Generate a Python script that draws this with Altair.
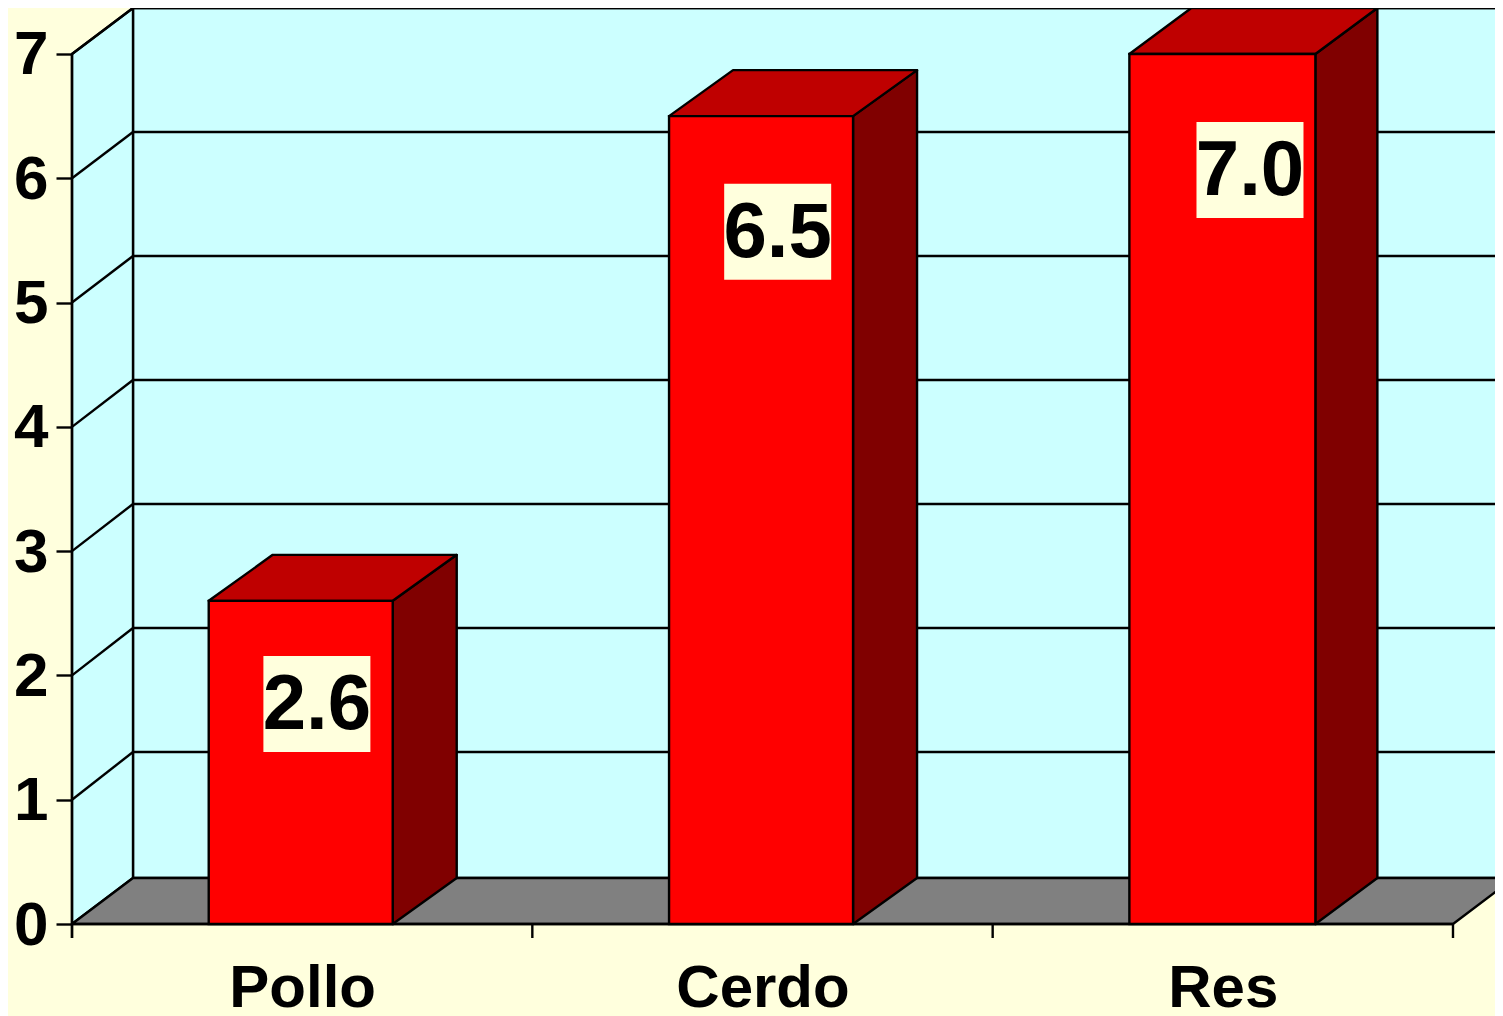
import json
import altair as alt
import pandas as pd

categories = ["Pollo", "Cerdo", "Res"]
values = [2.6, 6.5, 7.0]
value_labels = ["2.6", "6.5", "7.0"]
y_ticks = [0, 1, 2, 3, 4, 5, 6, 7]

BG, WALL, FLOOR = "#FFFFDD", "#CCFFFF", "#808080"
FRONT, TOP, SIDE = "#FF0000", "#BF0000", "#800000"
FONT = "Liberation Sans"
LW = 2.4

# scale geometry: plot area starts at page (8, 8)
W, H = 1487, 1008
X0, UX = 64.0, 460.33
Y0, UY = 916.0, 124.29
x_scale = alt.Scale(domain=[-X0 / UX, (W - X0) / UX], nice=False, zero=False)
y_scale = alt.Scale(domain=[(Y0 - H) / UY, Y0 / UY], nice=False, zero=False)
DX, DY = 61.0 / UX, 46.0 / UY       # depth of the 3-D projection
BAR_OFF = 0.297
BAR_W = [184.0 / UX, 184.0 / UX, 186.0 / UX]
BAR_DX = [64.0 / UX, 64.0 / UX, 62.0 / UX]
XN = len(categories)
YMAX = max(y_ticks)
XEND = (W - X0) / UX


def wall_y(t):
    """height of a gridline on the back wall"""
    return (48.0 + t * 124.0) / UY if t else DY


names = json.dumps(categories)
x_axis = alt.Axis(
    values=[i + 0.5 for i in range(XN)],
    labelExpr=f"{names}[floor(datum.value)]",
    offset=-(H - Y0), domain=False, ticks=False, grid=False, title=None,
    labelFont=FONT, labelFontWeight="bold", labelFontSize=60, labelColor="black",
    labelPadding=35, labelFlush=False, labelOverlap=False, labelBound=False,
)
y_axis = alt.Axis(
    values=y_ticks, offset=-X0, domain=False, grid=False, title=None,
    tickSize=16, tickWidth=LW, tickColor="black", format="d",
    labelFont=FONT, labelFontWeight="bold", labelFontSize=62, labelColor="black",
    labelPadding=8, labelOffset=1, labelOverlap=False, labelBound=False, labelFlush=False,
)


def X(f="x"):
    return alt.X(f"{f}:Q", scale=x_scale, axis=x_axis)


def Y(f="y"):
    return alt.Y(f"{f}:Q", scale=y_scale, axis=y_axis)


def area_v(rows, fill, clip=False):
    """parallelogram with vertical sides"""
    return alt.Chart(pd.DataFrame(rows)).mark_area(
        fill=fill, stroke="black", strokeWidth=LW, strokeJoin="round", clip=clip, opacity=1
    ).encode(x=X(), y=Y(), y2="y2:Q", detail="k:N")


def area_h(rows, fill, clip=False):
    """parallelogram with horizontal sides"""
    return alt.Chart(pd.DataFrame(rows)).mark_area(
        fill=fill, stroke="black", strokeWidth=LW, strokeJoin="round", clip=clip,
        orient="horizontal", opacity=1
    ).encode(y=Y(), x=X(), x2="x2:Q", detail="k:N")


def segments(segs, clip=True):
    rows = []
    for k, (a, b, c, d) in enumerate(segs):
        rows += [dict(k=k, i=0, x=a, y=b), dict(k=k, i=1, x=c, y=d)]
    return alt.Chart(pd.DataFrame(rows)).mark_line(
        color="black", strokeWidth=LW, clip=clip
    ).encode(x=X(), y=Y(), detail="k:N", order="i:Q")


# walls and floor
back = alt.Chart(pd.DataFrame([dict(x=DX, x2=XEND + 1, y=DY, y2=wall_y(YMAX))])).mark_rect(
    fill=WALL, stroke="black", strokeWidth=LW, clip=True
).encode(x=X(), x2="x2:Q", y=Y(), y2="y2:Q")
left = area_v([dict(k=0, x=0, y=0, y2=YMAX), dict(k=0, x=DX, y=DY, y2=wall_y(YMAX))], WALL)
floor = area_h([dict(k=0, y=0, x=0, x2=XN), dict(k=0, y=DY, x=DX, x2=XN + DX)], FLOOR, clip=True)

grid = segments(
    [(DX, wall_y(t), XEND + 1, wall_y(t)) for t in y_ticks[1:]]
    + [(0, t, DX, wall_y(t)) for t in y_ticks[1:]]
)
ticks = segments(
    [(i, 0, i, -14.0 / UY) for i in range(XN + 1)] + [(0, 0, XN, 0)]
)

# bars
side_rows, top_rows, front_rows = [], [], []
for i, v in enumerate(values):
    l = i + BAR_OFF
    r = l + BAR_W[i]
    d = BAR_DX[i]
    side_rows += [dict(k=i, x=r, y=0, y2=v), dict(k=i, x=r + d, y=DY, y2=v + DY)]
    top_rows += [dict(k=i, y=v, x=l, x2=r), dict(k=i, y=v + DY, x=l + d, x2=r + d)]
    front_rows.append(dict(x=l, x2=r, y=0, y2=v))
side = area_v(side_rows, SIDE)
top = area_h(top_rows, TOP)
front = alt.Chart(pd.DataFrame(front_rows)).mark_rect(
    fill=FRONT, stroke="black", strokeWidth=LW
).encode(x=X(), x2="x2:Q", y=Y(), y2="y2:Q")

# value labels on a background box
drop = [0.83, 0.93, 0.934]
shift = [0.532, 0.533, 0.559]
BOX_W, BOX_H = 107.0 / UX, 96.0 / UY
lab = pd.DataFrame(
    [
        dict(x=i + shift[i], y=v - drop[i], t=value_labels[i],
             bx=i + shift[i] - BOX_W / 2, bx2=i + shift[i] + BOX_W / 2,
             by=v - drop[i] - BOX_H / 2, by2=v - drop[i] + BOX_H / 2)
        for i, v in enumerate(values)
    ]
)
box = alt.Chart(lab).mark_rect(fill=BG).encode(
    x=X("bx"), x2="bx2:Q", y=Y("by"), y2="by2:Q",
)
text = alt.Chart(lab).mark_text(
    font=FONT, fontWeight="bold", fontSize=78, color="black", baseline="middle", align="center", dy=2
).encode(x=X(), y=Y(), text="t:N")

frontline = segments([(0, -14.0 / UY, 0, YMAX)], clip=False)

chart = alt.layer(
    back, left, grid, floor, frontline, ticks, side, top, front, box, text
).resolve_scale(x="shared", y="shared").properties(
    width=W, height=H, padding=0,
    autosize=alt.AutoSizeParams(type="none"),
    background=BG,
).configure_view(stroke=None)

chart.save("out.html", embed_options={"renderer": "svg", "actions": False})
